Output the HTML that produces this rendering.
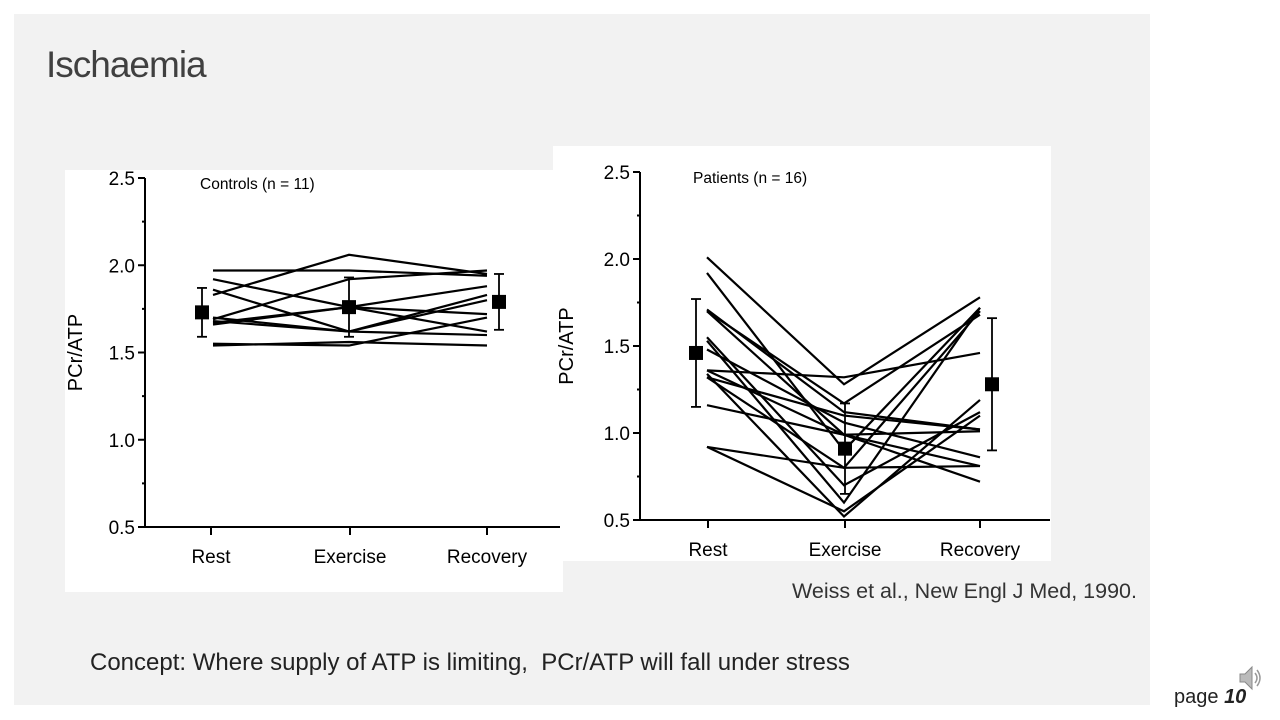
<!DOCTYPE html>
<html><head><meta charset="utf-8"><style>
body{margin:0;width:1280px;height:720px;background:#fff;position:relative;overflow:hidden;font-family:"Liberation Sans",sans-serif}
.slide{position:absolute;left:14px;top:14px;width:1136px;height:691px;background:#f2f2f2}
.t{position:absolute;color:#404040;white-space:nowrap}
</style></head><body>
<div class="slide"></div>
<div class="t" style="left:46px;top:44px;font-size:37px;letter-spacing:-1px">Ischaemia</div>
<div class="t" style="left:792px;top:579px;font-size:21.5px;color:#333">Weiss et al., New Engl J Med, 1990.</div>
<div class="t" style="left:90px;top:649px;font-size:24px;color:#222">Concept: Where supply of ATP is limiting,&nbsp; PCr/ATP will fall under stress</div>
<div class="t" style="left:1174px;top:686px;font-size:20px;color:#222">page <b><i>10</i></b></div>
<svg style="position:absolute;left:1238px;top:664px" width="24" height="28"><path d="M2 10h5l7-7v22l-7-7H2z" fill="#bbb" stroke="#888"/><path d="M17 9q4 5 0 10M19 6q6 8 0 16" fill="none" stroke="#999" stroke-width="1.5"/></svg>
<svg id="c" width="1280" height="720" style="position:absolute;left:0;top:0">
<rect x="553" y="146" width="498" height="415" fill="#fff"/>
<rect x="65" y="170" width="498" height="422" fill="#fff"/>
</svg>
<script>
const categories=["Rest","Exercise","Recovery"];
const yTicks=[0.5,1.0,1.5,2.0,2.5];
const controlsData=[[1.97,1.97,1.94],[1.83,2.06,1.95],[1.92,1.76,1.62],[1.69,1.92,1.97],[1.67,1.76,1.88],[1.68,1.62,1.80],[1.66,1.76,1.72],[1.70,1.62,1.60],[1.55,1.54,1.70],[1.54,1.56,1.54],[1.86,1.62,1.83]];
const controlsMean=[1.73,1.76,1.79];
const controlsSD=[0.14,0.17,0.16];
const patientsData=[[2.01,1.28,1.78],[1.92,0.90,1.72],[1.71,1.12,1.02],[1.70,1.17,1.68],[1.70,0.99,0.72],[1.53,0.60,1.72],[1.55,0.70,1.12],[1.48,1.06,0.86],[1.36,1.32,1.46],[1.34,0.52,1.19],[1.32,0.80,1.70],[1.36,0.99,1.01],[1.16,0.99,0.81],[0.92,0.80,0.81],[0.92,0.55,1.10],[1.32,1.10,1.02]];
const patientsMean=[1.46,0.91,1.28];
const patientsSD=[0.31,0.26,0.38];
const svg=document.getElementById('c');
const NS='http://www.w3.org/2000/svg';
function mk(tag,at,name){const e=document.createElementNS(NS,tag);for(const k in at)e.setAttribute(k,at[k]);


svg.appendChild(e);return e;}
function chart(o){
 const y=v=>o.yTop+(2.5-v)*(o.yBot-o.yTop)/2.0;
 const xl=i=>o.lx[i], xm=i=>o.mx[i];
 mk('line',{x1:o.ax,y1:o.yTop,x2:o.ax,y2:o.yBot,stroke:'#000','stroke-width':2},o.p+'-y-axis');
 mk('line',{x1:o.ax,y1:o.yBot,x2:o.axEnd,y2:o.yBot,stroke:'#000','stroke-width':2},o.p+'-x-axis');
 for(let v=0.5;v<=2.501;v+=0.25){mk('line',{x1:o.ax-(Math.abs(v*2-Math.round(v*2))<0.01?7:3),y1:y(v),x2:o.ax,y2:y(v),stroke:'#000','stroke-width':2},o.p+'-y-tick');}
 yTicks.forEach(v=>{const t=mk('text',{x:o.ax-10,y:y(v)+7,'text-anchor':'end','font-size':19,fill:'#000'},o.p+'-y-tick-label');t.textContent=v.toFixed(1);});
 categories.forEach((c,i)=>{mk('line',{x1:o.tx[i],y1:o.yBot,x2:o.tx[i],y2:o.yBot+8,stroke:'#000','stroke-width':2},o.p+'-x-tick');
  const t=mk('text',{x:o.tx[i],y:o.yBot+36,'text-anchor':'middle','font-size':19,fill:'#000'},o.p+'-x-tick-label');t.textContent=c;});
 const yt=mk('text',{x:0,y:0,transform:`translate(${o.ytx},${(o.yTop+o.yBot)/2}) rotate(-90)`,'text-anchor':'middle','font-size':20,fill:'#000'},o.p+'-y-axis-title');yt.textContent='PCr/ATP';
 const tt=mk('text',{x:o.titleX,y:o.yTop+11,'font-size':15.5,fill:'#000'},o.p+'-chart-title');tt.textContent=o.title;
 o.data.forEach(d=>{mk('polyline',{points:d.map((v,i)=>xl(i)+','+y(v)).join(' '),fill:'none',stroke:'#000','stroke-width':2.2},o.p+'-subject-line');});
 o.mean.forEach((m,i)=>{const x=xm(i);
  mk('line',{x1:x,y1:y(m+o.sd[i]),x2:x,y2:y(m-o.sd[i]),stroke:'#000','stroke-width':1.8},o.p+'-error-bar');
  [m+o.sd[i],m-o.sd[i]].forEach(v=>mk('line',{x1:x-5,y1:y(v),x2:x+5,y2:y(v),stroke:'#000','stroke-width':1.8},o.p+'-error-cap'));
  mk('rect',{x:x-7,y:y(m)-7,width:14,height:14,fill:'#000'},o.p+'-mean-marker');});
}
chart({p:'controls',yTop:178,yBot:527,ax:145,axEnd:560,lx:[213,349,487],mx:[202,349,499],tx:[211,350,487],ytx:82,titleX:200,title:'Controls (n = 11)',data:controlsData,mean:controlsMean,sd:controlsSD});
chart({p:'patients',yTop:172,yBot:520,ax:640,axEnd:1050,lx:[707,844,980],mx:[696,845,992],tx:[708,845,980],ytx:573,titleX:693,title:'Patients (n = 16)',data:patientsData,mean:patientsMean,sd:patientsSD});
</script>
</body></html>
